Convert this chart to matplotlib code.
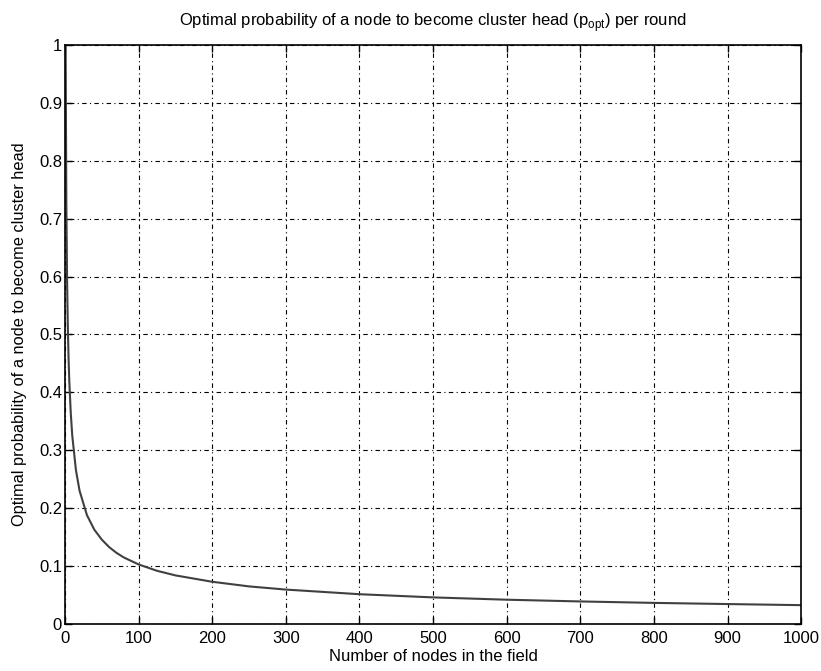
import numpy as np
import matplotlib.pyplot as plt

plt.rcParams['font.family'] = ['Liberation Sans', 'DejaVu Sans']
plt.rcParams['mathtext.fontset'] = 'custom'
plt.rcParams['mathtext.rm'] = 'Liberation Sans'

# number of nodes and optimal cluster-head probability
nodes = [1, 2, 3, 4, 5, 6, 8, 10, 15, 20, 30, 40, 50, 60, 70, 80, 100,
         125, 150, 200, 250, 300, 400, 500, 600, 700, 800, 900, 1000]
p_opt = [1.0, 0.73, 0.595, 0.515, 0.46, 0.42, 0.365, 0.326, 0.266, 0.23,
         0.188, 0.163, 0.146, 0.133, 0.123, 0.115, 0.103, 0.092, 0.084,
         0.073, 0.065, 0.0595, 0.0515, 0.046, 0.042, 0.039, 0.0365,
         0.0345, 0.0326]

xticks = np.arange(0, 1001, 100)
yticks = np.arange(0, 1.01, 0.1)

fig = plt.figure(figsize=(8.21, 6.71), dpi=100)
ax = fig.add_axes([0.079, 0.070, 0.897, 0.863])

ax.plot(nodes, p_opt, color='0.25', lw=1.5)

ax.set_xlim(0, 1000)
ax.set_ylim(0, 1)
ax.set_xticks(xticks)
ax.set_yticks(yticks)
ax.set_yticklabels(['0'] + [f'{v:.1f}' for v in yticks[1:-1]] + ['1'])
ax.tick_params(direction='in', top=True, right=True, length=5, width=1,
               labelsize=12)
ax.tick_params(axis='x', pad=5)
ax.tick_params(axis='y', pad=2)
for s in ax.spines.values():
    s.set_linewidth(1.2)
ax.grid(True, color='black', linestyle=(0, (1, 3, 4, 3)), linewidth=0.8)

ax.set_title(r'Optimal probability of a node to become cluster head (p$_{\mathregular{opt}}$) per round',
             fontsize=12, pad=14)
ax.set_xlabel('Number of nodes in the field', fontsize=12, labelpad=2)
ax.set_ylabel('Optimal probability of a node to become cluster head', fontsize=11.8)
ax.yaxis.set_label_coords(-0.052, 0.5)

fig.savefig('out.png', dpi=100)
